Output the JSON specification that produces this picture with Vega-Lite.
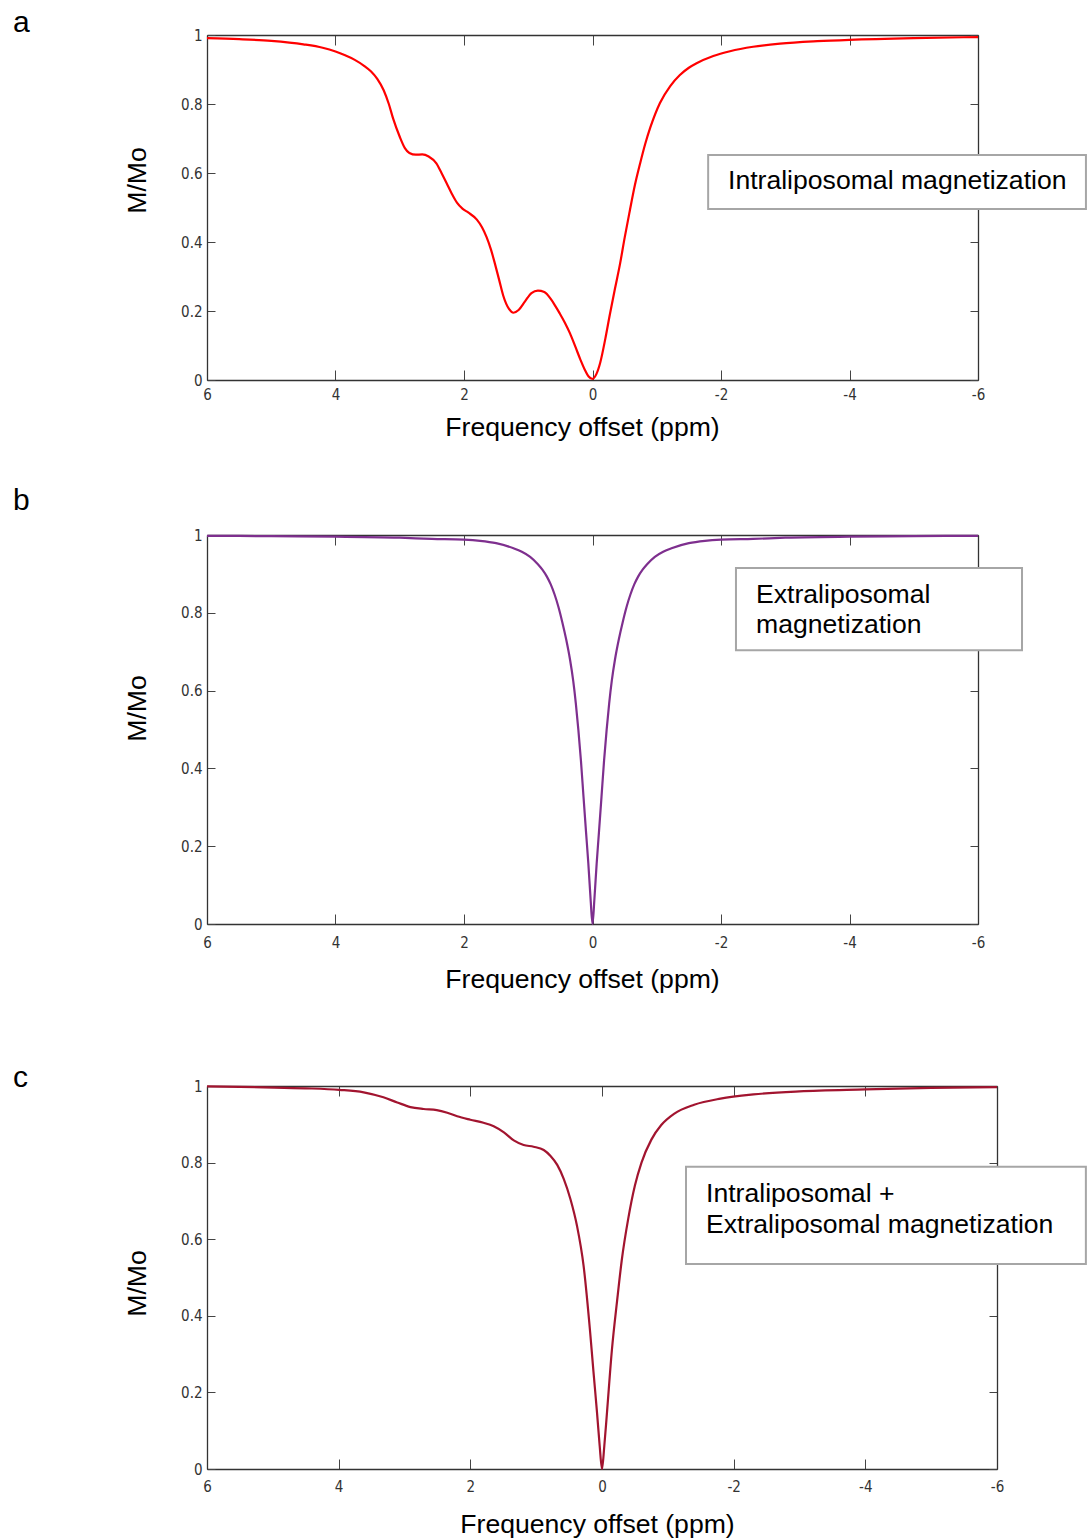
{
  "$schema": "https://vega.github.io/schema/vega-lite/v6.json",
  "padding": {"left": 13, "top": 8, "right": 0, "bottom": 0},
  "spacing": 45,
  "config": {
    "view": {"stroke": null},
    "axis": {"grid": false, "domainColor": "#333333", "domainWidth": 1.3, "tickColor": "#444444", "tickWidth": 1, "labelFont": "DejaVu Sans Condensed, Liberation Sans", "labelFontSize": 15, "labelColor": "#333333", "labelFlush": false, "labelOverlap": false, "titleFont": "Liberation Sans", "titleFontSize": 26.6, "titleFontWeight": "normal", "titleColor": "#000000"},
    "axisX": {"tickSize": -10, "labelPadding": 17, "titlePadding": 12},
    "axisY": {"tickSize": -8, "labelPadding": 13, "titlePadding": 29},
    "title": {"font": "Liberation Sans", "fontSize": 30, "fontWeight": "normal", "color": "#000000", "anchor": "start", "frame": "group", "dx": -194}
  },
  "datasets": {
    "a": [
      {"ppm": 6, "m": 0.991}, {"ppm": 5.5, "m": 0.988}, {"ppm": 5, "m": 0.983}, {"ppm": 4.5, "m": 0.973}, {"ppm": 4.2, "m": 0.963}, {"ppm": 4, "m": 0.952}, {"ppm": 3.85, "m": 0.941}, {"ppm": 3.7, "m": 0.928}, {"ppm": 3.55, "m": 0.91}, {"ppm": 3.45, "m": 0.895}, {"ppm": 3.35, "m": 0.873}, {"ppm": 3.25, "m": 0.84}, {"ppm": 3.17, "m": 0.8}, {"ppm": 3.1, "m": 0.756}, {"ppm": 3.0, "m": 0.705}, {"ppm": 2.92, "m": 0.672}, {"ppm": 2.85, "m": 0.658}, {"ppm": 2.75, "m": 0.653}, {"ppm": 2.65, "m": 0.654}, {"ppm": 2.55, "m": 0.648}, {"ppm": 2.43, "m": 0.628}, {"ppm": 2.35, "m": 0.6}, {"ppm": 2.27, "m": 0.57}, {"ppm": 2.19, "m": 0.54}, {"ppm": 2.11, "m": 0.514}, {"ppm": 2.02, "m": 0.496}, {"ppm": 1.93, "m": 0.485}, {"ppm": 1.8, "m": 0.465}, {"ppm": 1.72, "m": 0.443}, {"ppm": 1.65, "m": 0.415}, {"ppm": 1.58, "m": 0.378}, {"ppm": 1.52, "m": 0.338}, {"ppm": 1.45, "m": 0.288}, {"ppm": 1.39, "m": 0.245}, {"ppm": 1.3, "m": 0.206}, {"ppm": 1.23, "m": 0.195}, {"ppm": 1.15, "m": 0.203}, {"ppm": 1.05, "m": 0.228}, {"ppm": 0.95, "m": 0.252}, {"ppm": 0.85, "m": 0.259}, {"ppm": 0.75, "m": 0.255}, {"ppm": 0.65, "m": 0.235}, {"ppm": 0.58, "m": 0.215}, {"ppm": 0.51, "m": 0.193}, {"ppm": 0.43, "m": 0.166}, {"ppm": 0.35, "m": 0.135}, {"ppm": 0.27, "m": 0.098}, {"ppm": 0.19, "m": 0.06}, {"ppm": 0.12, "m": 0.03}, {"ppm": 0.06, "m": 0.01}, {"ppm": 0, "m": 0.003}, {"ppm": -0.06, "m": 0.017}, {"ppm": -0.12, "m": 0.05}, {"ppm": -0.2, "m": 0.12}, {"ppm": -0.27, "m": 0.19}, {"ppm": -0.35, "m": 0.265}, {"ppm": -0.43, "m": 0.338}, {"ppm": -0.5, "m": 0.412}, {"ppm": -0.58, "m": 0.49}, {"ppm": -0.66, "m": 0.565}, {"ppm": -0.74, "m": 0.627}, {"ppm": -0.82, "m": 0.684}, {"ppm": -0.9, "m": 0.732}, {"ppm": -1.05, "m": 0.803}, {"ppm": -1.21, "m": 0.852}, {"ppm": -1.36, "m": 0.884}, {"ppm": -1.5, "m": 0.905}, {"ppm": -1.62, "m": 0.918}, {"ppm": -1.88, "m": 0.939}, {"ppm": -2.14, "m": 0.953}, {"ppm": -2.5, "m": 0.966}, {"ppm": -2.92, "m": 0.975}, {"ppm": -3.5, "m": 0.982}, {"ppm": -4, "m": 0.986}, {"ppm": -5, "m": 0.991}, {"ppm": -6, "m": 0.994}
    ],
    "b": [
      {"ppm": 6, "m": 0.998}, {"ppm": 5, "m": 0.997}, {"ppm": 4, "m": 0.996}, {"ppm": 3, "m": 0.993}, {"ppm": 2.5, "m": 0.99}, {"ppm": 2, "m": 0.988}, {"ppm": 1.75, "m": 0.985}, {"ppm": 1.5, "m": 0.979}, {"ppm": 1.23, "m": 0.966}, {"ppm": 1.1, "m": 0.957}, {"ppm": 0.97, "m": 0.944}, {"ppm": 0.85, "m": 0.925}, {"ppm": 0.78, "m": 0.911}, {"ppm": 0.71, "m": 0.893}, {"ppm": 0.65, "m": 0.873}, {"ppm": 0.59, "m": 0.847}, {"ppm": 0.53, "m": 0.815}, {"ppm": 0.47, "m": 0.776}, {"ppm": 0.41, "m": 0.732}, {"ppm": 0.35, "m": 0.68}, {"ppm": 0.3, "m": 0.625}, {"ppm": 0.26, "m": 0.568}, {"ppm": 0.22, "m": 0.499}, {"ppm": 0.18, "m": 0.42}, {"ppm": 0.14, "m": 0.327}, {"ppm": 0.1, "m": 0.235}, {"ppm": 0.065, "m": 0.156}, {"ppm": 0.03, "m": 0.065}, {"ppm": 0, "m": 0.0},
      {"ppm": -0.03, "m": 0.065}, {"ppm": -0.065, "m": 0.156}, {"ppm": -0.1, "m": 0.235}, {"ppm": -0.14, "m": 0.327}, {"ppm": -0.18, "m": 0.42}, {"ppm": -0.22, "m": 0.499}, {"ppm": -0.26, "m": 0.568}, {"ppm": -0.3, "m": 0.625}, {"ppm": -0.35, "m": 0.68}, {"ppm": -0.41, "m": 0.732}, {"ppm": -0.47, "m": 0.776}, {"ppm": -0.53, "m": 0.815}, {"ppm": -0.59, "m": 0.847}, {"ppm": -0.65, "m": 0.873}, {"ppm": -0.71, "m": 0.893}, {"ppm": -0.78, "m": 0.911}, {"ppm": -0.85, "m": 0.925}, {"ppm": -0.97, "m": 0.944}, {"ppm": -1.1, "m": 0.957}, {"ppm": -1.23, "m": 0.966}, {"ppm": -1.5, "m": 0.979}, {"ppm": -1.75, "m": 0.985}, {"ppm": -2, "m": 0.988}, {"ppm": -2.5, "m": 0.99}, {"ppm": -3, "m": 0.993}, {"ppm": -4, "m": 0.996}, {"ppm": -5, "m": 0.997}, {"ppm": -6, "m": 0.998}
    ],
    "c": [
      {"ppm": 6, "m": 0.999}, {"ppm": 5.14, "m": 0.9965}, {"ppm": 4.5, "m": 0.994}, {"ppm": 3.99, "m": 0.99}, {"ppm": 3.62, "m": 0.9835}, {"ppm": 3.32, "m": 0.9705}, {"ppm": 3.11, "m": 0.957}, {"ppm": 2.91, "m": 0.945}, {"ppm": 2.71, "m": 0.94}, {"ppm": 2.51, "m": 0.937}, {"ppm": 2.35, "m": 0.93}, {"ppm": 2.2, "m": 0.921}, {"ppm": 2.0, "m": 0.912}, {"ppm": 1.8, "m": 0.904}, {"ppm": 1.645, "m": 0.895}, {"ppm": 1.49, "m": 0.879}, {"ppm": 1.34, "m": 0.858}, {"ppm": 1.19, "m": 0.846}, {"ppm": 1.04, "m": 0.8415}, {"ppm": 0.885, "m": 0.833}, {"ppm": 0.785, "m": 0.818}, {"ppm": 0.68, "m": 0.794}, {"ppm": 0.58, "m": 0.757}, {"ppm": 0.48, "m": 0.705}, {"ppm": 0.38, "m": 0.635}, {"ppm": 0.28, "m": 0.531}, {"ppm": 0.18, "m": 0.357}, {"ppm": 0.13, "m": 0.255}, {"ppm": 0.076, "m": 0.148}, {"ppm": 0.035, "m": 0.06}, {"ppm": 0, "m": 0.0},
      {"ppm": -0.035, "m": 0.06}, {"ppm": -0.076, "m": 0.148}, {"ppm": -0.15, "m": 0.31}, {"ppm": -0.23, "m": 0.44}, {"ppm": -0.3, "m": 0.545}, {"ppm": -0.4, "m": 0.655}, {"ppm": -0.5, "m": 0.74}, {"ppm": -0.6, "m": 0.8}, {"ppm": -0.75, "m": 0.86}, {"ppm": -0.9, "m": 0.898}, {"ppm": -1.1, "m": 0.928}, {"ppm": -1.4, "m": 0.951}, {"ppm": -1.8, "m": 0.967}, {"ppm": -2.3, "m": 0.978}, {"ppm": -3, "m": 0.986}, {"ppm": -4, "m": 0.991}, {"ppm": -5, "m": 0.995}, {"ppm": -6, "m": 0.997}
    ]
  },
  "vconcat": [
    {
      "width": 771, "height": 345,
      "title": {"text": "a", "offset": -10},
      "layer": [
        {
          "data": {"name": "a"},
          "mark": {"type": "line", "color": "#ff0000", "strokeWidth": 2.2, "interpolate": "monotone"},
          "encoding": {
            "x": {"field": "ppm", "type": "quantitative", "scale": {"domain": [6, -6]}, "axis": {"orient": "bottom", "values": [6, 4, 2, 0, -2, -4, -6], "labelExpr": "'' + datum.value", "title": "Frequency offset (ppm)", "titleX": 375}},
            "y": {"field": "m", "type": "quantitative", "scale": {"domain": [0, 1]}, "axis": {"orient": "left", "values": [0, 0.2, 0.4, 0.6, 0.8, 1], "labelExpr": "'' + datum.value", "title": "M/Mo", "titleY": 145}}
          }
        },
        {
          "data": {"values": [{}]},
          "mark": {"type": "rect", "fill": "#ffffff", "stroke": "#a6a6a6", "strokeWidth": 2},
          "encoding": {
            "x": {"datum": -1.8, "type": "quantitative", "scale": {"domain": [6, -6]}, "axis": {"orient": "top", "values": [6, 4, 2, 0, -2, -4, -6], "labels": false, "title": null}},
            "x2": {"datum": -7.68},
            "y": {"datum": 0.652, "type": "quantitative", "scale": {"domain": [0, 1]}, "axis": {"orient": "right", "values": [0, 0.2, 0.4, 0.6, 0.8, 1], "labels": false, "title": null}},
            "y2": {"datum": 0.496}
          }
        },
        {
          "data": {"values": [{}]},
          "mark": {"type": "text", "align": "left", "baseline": "middle", "font": "Liberation Sans", "fontSize": 26.6, "color": "#000000"},
          "encoding": {
            "x": {"datum": -2.109, "type": "quantitative", "axis": null},
            "y": {"datum": 0.577, "type": "quantitative", "axis": null},
            "text": {"value": "Intraliposomal magnetization"}
          }
        }
      ],
      "resolve": {"axis": {"x": "independent", "y": "independent"}}
    },
    {
      "width": 771, "height": 389,
      "title": {"text": "b", "offset": 12},
      "layer": [
        {
          "data": {"name": "b"},
          "mark": {"type": "line", "color": "#7e2f8e", "strokeWidth": 2.2, "interpolate": "monotone"},
          "encoding": {
            "x": {"field": "ppm", "type": "quantitative", "scale": {"domain": [6, -6]}, "axis": {"orient": "bottom", "values": [6, 4, 2, 0, -2, -4, -6], "labelExpr": "'' + datum.value", "title": "Frequency offset (ppm)", "titleX": 375, "labelPadding": 21, "titlePadding": 16}},
            "y": {"field": "m", "type": "quantitative", "scale": {"domain": [0, 1]}, "axis": {"orient": "left", "values": [0, 0.2, 0.4, 0.6, 0.8, 1], "labelExpr": "'' + datum.value", "title": "M/Mo", "titleY": 173}}
          }
        },
        {
          "data": {"values": [{}]},
          "mark": {"type": "rect", "fill": "#ffffff", "stroke": "#a6a6a6", "strokeWidth": 2},
          "encoding": {
            "x": {"datum": -2.233, "type": "quantitative", "scale": {"domain": [6, -6]}, "axis": {"orient": "top", "values": [6, 4, 2, 0, -2, -4, -6], "labels": false, "title": null}},
            "x2": {"datum": -6.685},
            "y": {"datum": 0.915, "type": "quantitative", "scale": {"domain": [0, 1]}, "axis": {"orient": "right", "values": [0, 0.2, 0.4, 0.6, 0.8, 1], "labels": false, "title": null}},
            "y2": {"datum": 0.704}
          }
        },
        {
          "data": {"values": [{}]},
          "mark": {"type": "text", "align": "left", "baseline": "middle", "font": "Liberation Sans", "fontSize": 26.6, "lineHeight": 30.5, "lineBreak": "\n", "color": "#000000"},
          "encoding": {
            "x": {"datum": -2.545, "type": "quantitative", "axis": null},
            "y": {"datum": 0.846, "type": "quantitative", "axis": null},
            "text": {"value": "Extraliposomal\nmagnetization"}
          }
        }
      ],
      "resolve": {"axis": {"x": "independent", "y": "independent"}}
    },
    {
      "width": 790, "height": 383,
      "title": {"text": ["", "c"], "offset": -14, "lineHeight": 25},
      "layer": [
        {
          "data": {"name": "c"},
          "mark": {"type": "line", "color": "#a2142f", "strokeWidth": 2.2, "interpolate": "monotone"},
          "encoding": {
            "x": {"field": "ppm", "type": "quantitative", "scale": {"domain": [6, -6]}, "axis": {"orient": "bottom", "values": [6, 4, 2, 0, -2, -4, -6], "labelExpr": "'' + datum.value", "title": "Frequency offset (ppm)", "titleX": 390, "labelPadding": 20, "titlePadding": 17}},
            "y": {"field": "m", "type": "quantitative", "scale": {"domain": [0, 1]}, "axis": {"orient": "left", "values": [0, 0.2, 0.4, 0.6, 0.8, 1], "labelExpr": "'' + datum.value", "title": "M/Mo", "titleY": 197}}
          }
        },
        {
          "data": {"values": [{}]},
          "mark": {"type": "rect", "fill": "#ffffff", "stroke": "#a6a6a6", "strokeWidth": 2},
          "encoding": {
            "x": {"datum": -1.276, "type": "quantitative", "scale": {"domain": [6, -6]}, "axis": {"orient": "top", "values": [6, 4, 2, 0, -2, -4, -6], "labels": false, "title": null}},
            "x2": {"datum": -7.35},
            "y": {"datum": 0.789, "type": "quantitative", "scale": {"domain": [0, 1]}, "axis": {"orient": "right", "values": [0, 0.2, 0.4, 0.6, 0.8, 1], "labels": false, "title": null}},
            "y2": {"datum": 0.535}
          }
        },
        {
          "data": {"values": [{}]},
          "mark": {"type": "text", "align": "left", "baseline": "middle", "font": "Liberation Sans", "fontSize": 26.6, "lineHeight": 31, "lineBreak": "\n", "color": "#000000"},
          "encoding": {
            "x": {"datum": -1.58, "type": "quantitative", "axis": null},
            "y": {"datum": 0.718, "type": "quantitative", "axis": null},
            "text": {"value": "Intraliposomal +\nExtraliposomal magnetization"}
          }
        }
      ],
      "resolve": {"axis": {"x": "independent", "y": "independent"}}
    }
  ]
}
